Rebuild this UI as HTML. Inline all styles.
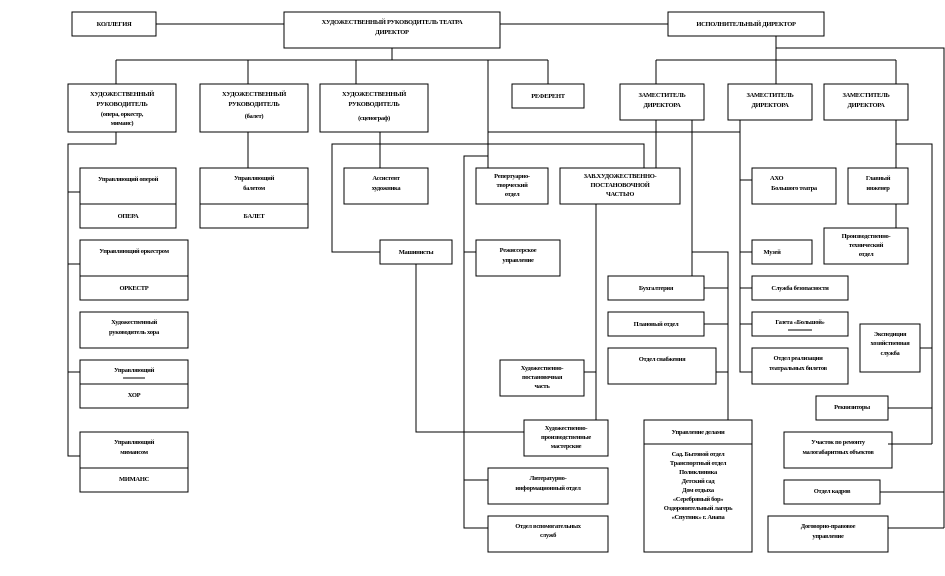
<!DOCTYPE html>
<html><head><meta charset="utf-8"><style>
html,body{margin:0;padding:0;background:#fff;}
svg{display:block;}
text{font-family:"Liberation Serif","DejaVu Serif",serif;font-weight:bold;font-size:6.5px;fill:#000;text-anchor:middle;letter-spacing:-0.3px;}
rect{fill:#fff;stroke:#000;stroke-width:1;}
line,polyline{stroke:#000;stroke-width:1;fill:none;}
</style></head><body>
<svg width="945" height="576" viewBox="0 0 945 576" xmlns="http://www.w3.org/2000/svg" shape-rendering="crispEdges">
<!-- connectors -->
<line x1="156" y1="24" x2="284" y2="24"/>
<line x1="500" y1="24" x2="668" y2="24"/>
<line x1="392" y1="48" x2="392" y2="60"/>
<line x1="116" y1="60" x2="548" y2="60"/>
<line x1="116" y1="60" x2="116" y2="84"/>
<line x1="248" y1="60" x2="248" y2="84"/>
<line x1="356" y1="60" x2="356" y2="84"/>
<line x1="548" y1="60" x2="548" y2="84"/>
<line x1="488" y1="60" x2="488" y2="168"/>
<line x1="776" y1="36" x2="776" y2="84"/>
<polyline points="776,48 944,48 944,528"/>
<line x1="656" y1="60" x2="896" y2="60"/>
<line x1="656" y1="60" x2="656" y2="84"/>
<line x1="896" y1="60" x2="896" y2="84"/>
<line x1="656" y1="120" x2="656" y2="168"/>
<line x1="692" y1="120" x2="692" y2="276"/>
<polyline points="692,252 728,252 728,420"/>
<line x1="704" y1="288" x2="728" y2="288"/>
<line x1="704" y1="324" x2="728" y2="324"/>
<line x1="716" y1="372" x2="728" y2="372"/>
<line x1="488" y1="132" x2="740" y2="132"/>
<polyline points="740,120 740,372 752,372"/>
<line x1="740" y1="180" x2="752" y2="180"/>
<line x1="740" y1="252" x2="752" y2="252"/>
<line x1="740" y1="288" x2="752" y2="288"/>
<line x1="740" y1="324" x2="752" y2="324"/>
<line x1="896" y1="120" x2="896" y2="228"/>
<polyline points="896,144 932,144 932,444"/>
<line x1="920" y1="348" x2="932" y2="348"/>
<line x1="888" y1="408" x2="932" y2="408"/>
<line x1="888" y1="444" x2="932" y2="444"/>
<line x1="880" y1="492" x2="944" y2="492"/>
<line x1="888" y1="528" x2="944" y2="528"/>
<polyline points="116,132 116,144 68,144 68,456 80,456"/>
<line x1="68" y1="192" x2="80" y2="192"/>
<line x1="68" y1="264" x2="80" y2="264"/>
<line x1="68" y1="372" x2="80" y2="372"/>
<line x1="248" y1="132" x2="248" y2="168"/>
<line x1="380" y1="132" x2="380" y2="168"/>
<polyline points="644,168 644,144 332,144 332,252 380,252"/>
<polyline points="416,264 416,432 524,432"/>
<polyline points="488,156 464,156 464,528 488,528"/>
<line x1="464" y1="252" x2="476" y2="252"/>
<line x1="464" y1="480" x2="488" y2="480"/>
<line x1="596" y1="204" x2="596" y2="420"/>
<line x1="584" y1="372" x2="596" y2="372"/>

<!-- boxes -->
<rect x="72" y="12" width="84" height="24"/><text x="114" y="26">КОЛЛЕГИЯ</text>
<rect x="284" y="12" width="216" height="36"/><text x="392" y="24">ХУДОЖЕСТВЕННЫЙ РУКОВОДИТЕЛЬ ТЕАТРА</text><text x="392" y="34">ДИРЕКТОР</text>
<rect x="668" y="12" width="156" height="24"/><text x="746" y="26">ИСПОЛНИТЕЛЬНЫЙ ДИРЕКТОР</text>

<rect x="68" y="84" width="108" height="48"/><text x="122" y="96">ХУДОЖЕСТВЕННЫЙ</text><text x="122" y="106">РУКОВОДИТЕЛЬ</text><text x="122" y="116">(опера, оркестр,</text><text x="122" y="125">миманс)</text>
<rect x="200" y="84" width="108" height="48"/><text x="254" y="96">ХУДОЖЕСТВЕННЫЙ</text><text x="254" y="106">РУКОВОДИТЕЛЬ</text><text x="254" y="118">(балет)</text>
<rect x="320" y="84" width="108" height="48"/><text x="374" y="96">ХУДОЖЕСТВЕННЫЙ</text><text x="374" y="106">РУКОВОДИТЕЛЬ</text><text x="374" y="120">(сценограф)</text>
<rect x="512" y="84" width="72" height="24"/><text x="548" y="98">РЕФЕРЕНТ</text>
<rect x="620" y="84" width="84" height="36"/><text x="662" y="97">ЗАМЕСТИТЕЛЬ</text><text x="662" y="107">ДИРЕКТОРА</text>
<rect x="728" y="84" width="84" height="36"/><text x="770" y="97">ЗАМЕСТИТЕЛЬ</text><text x="770" y="107">ДИРЕКТОРА</text>
<rect x="824" y="84" width="84" height="36"/><text x="866" y="97">ЗАМЕСТИТЕЛЬ</text><text x="866" y="107">ДИРЕКТОРА</text>

<rect x="80" y="168" width="96" height="36"/><rect x="80" y="204" width="96" height="24"/><text x="128" y="181">Управляющий оперой</text><text x="128" y="218">ОПЕРА</text>
<rect x="80" y="240" width="108" height="36"/><rect x="80" y="276" width="108" height="24"/><text x="134" y="253">Управляющий оркестром</text><text x="134" y="290">ОРКЕСТР</text>
<rect x="80" y="312" width="108" height="36"/><text x="134" y="324">Художественный</text><text x="134" y="334">руководитель хора</text>
<rect x="80" y="360" width="108" height="24"/><rect x="80" y="384" width="108" height="24"/><text x="134" y="372">Управляющий</text><line x1="123" y1="378" x2="145" y2="378"/><text x="134" y="397">ХОР</text>
<rect x="80" y="432" width="108" height="36"/><rect x="80" y="468" width="108" height="24"/><text x="134" y="444">Управляющий</text><text x="134" y="454">мимансом</text><text x="134" y="481">МИМАНС</text>
<rect x="200" y="168" width="108" height="36"/><rect x="200" y="204" width="108" height="24"/><text x="254" y="180">Управляющий</text><text x="254" y="190">балетом</text><text x="254" y="218">БАЛЕТ</text>
<rect x="344" y="168" width="84" height="36"/><text x="386" y="180">Ассистент</text><text x="386" y="190">художника</text>
<rect x="380" y="240" width="72" height="24"/><text x="416" y="254">Машинисты</text>
<rect x="476" y="168" width="72" height="36"/><text x="512" y="178">Репертуарно-</text><text x="512" y="187">творческий</text><text x="512" y="196">отдел</text>
<rect x="560" y="168" width="120" height="36"/><text x="620" y="178">ЗАВ.ХУДОЖЕСТВЕННО-</text><text x="620" y="187">ПОСТАНОВОЧНОЙ</text><text x="620" y="196">ЧАСТЬЮ</text>
<rect x="476" y="240" width="84" height="36"/><text x="518" y="252">Режиссерское</text><text x="518" y="262">управление</text>
<rect x="500" y="360" width="84" height="36"/><text x="542" y="370">Художественно-</text><text x="542" y="379">постановочная</text><text x="542" y="388">часть</text>
<rect x="524" y="420" width="84" height="36"/><text x="566" y="430">Художественно-</text><text x="566" y="439">производственные</text><text x="566" y="448">мастерские</text>
<rect x="488" y="468" width="120" height="36"/><text x="548" y="480">Литературно-</text><text x="548" y="490">информационный отдел</text>
<rect x="488" y="516" width="120" height="36"/><text x="548" y="528">Отдел вспомогательных</text><text x="548" y="537">служб</text>
<rect x="608" y="276" width="96" height="24"/><text x="656" y="290">Бухгалтерия</text>
<rect x="608" y="312" width="96" height="24"/><text x="656" y="326">Плановый отдел</text>
<rect x="608" y="348" width="108" height="36"/><text x="662" y="361">Отдел снабжения</text>
<rect x="644" y="420" width="108" height="24"/><rect x="644" y="444" width="108" height="108"/><text x="698" y="434">Управление делами</text>
<text x="698" y="456">Сад. Бытовой отдел</text><text x="698" y="465">Транспортный отдел</text><text x="698" y="474">Поликлиника</text><text x="698" y="483">Детский сад</text><text x="698" y="492">Дом отдыха</text><text x="698" y="501">«Серебряный бор»</text><text x="698" y="510">Оздоровительный лагерь</text><text x="698" y="519">«Спутник» г. Анапа</text>
<rect x="752" y="168" width="84" height="36"/><text x="770" y="180" style="text-anchor:start">АХО</text><text x="794" y="190">Большого театра</text>
<rect x="752" y="240" width="60" height="24"/><text x="772" y="254">Музей</text>
<rect x="752" y="276" width="96" height="24"/><text x="800" y="290">Служба безопасности</text>
<rect x="752" y="312" width="96" height="24"/><text x="800" y="324">Газета «Большой»</text><line x1="788" y1="330" x2="812" y2="330"/>
<rect x="752" y="348" width="96" height="36"/><text x="798" y="360">Отдел реализации</text><text x="798" y="370">театральных билетов</text>
<rect x="848" y="168" width="60" height="36"/><text x="878" y="180">Главный</text><text x="878" y="190">инженер</text>
<rect x="824" y="228" width="84" height="36"/><text x="866" y="238">Производственно-</text><text x="866" y="247">технический</text><text x="866" y="256">отдел</text>
<rect x="860" y="324" width="60" height="48"/><text x="890" y="336">Экспедиция</text><text x="890" y="345">хозяйственная</text><text x="890" y="355">служба</text>
<rect x="816" y="396" width="72" height="24"/><text x="852" y="409">Реквизиторы</text>
<rect x="784" y="432" width="108" height="36"/><text x="838" y="444">Участок по ремонту</text><text x="838" y="454">малогабаритных объектов</text>
<rect x="784" y="480" width="96" height="24"/><text x="832" y="493">Отдел кадров</text>
<rect x="768" y="516" width="120" height="36"/><text x="828" y="528">Договорно-правовое</text><text x="828" y="538">управление</text>
<line x1="888" y1="444" x2="892" y2="444"/>
</svg>
</body></html>
